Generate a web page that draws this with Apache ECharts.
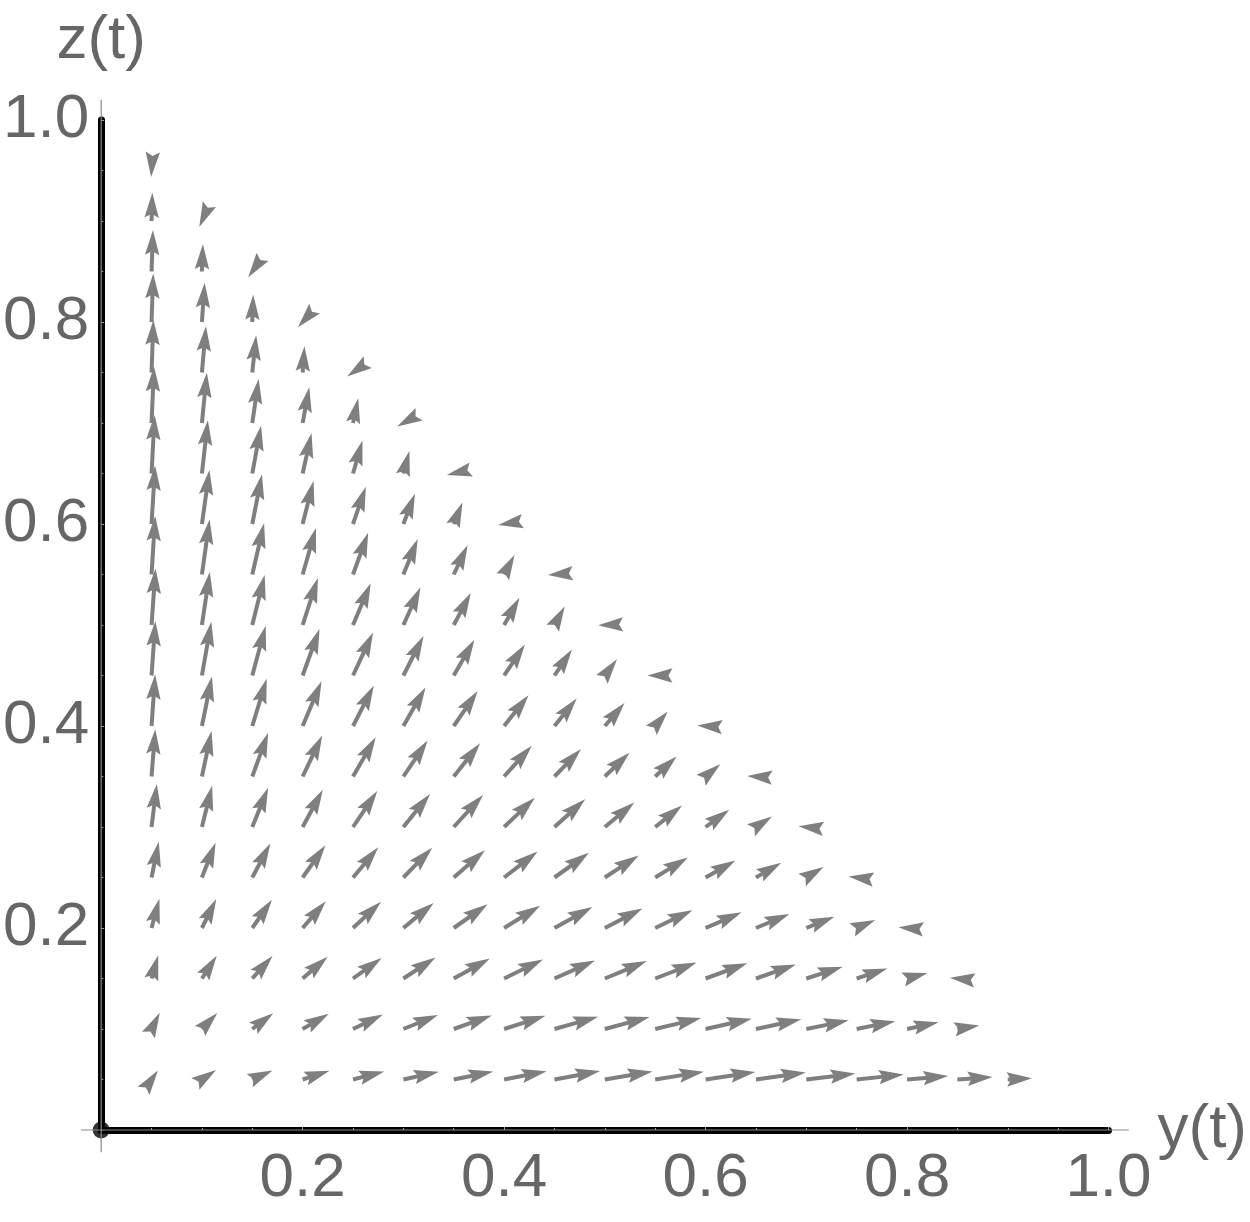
<!DOCTYPE html>
<html>
<head>
<meta charset="utf-8">
<script src="https://cdn.jsdelivr.net/npm/echarts/dist/echarts.min.js"></script>
<style>
html,body{margin:0;padding:0;background:#ffffff;}
#chart{width:1250px;height:1222px;}
</style>
</head>
<body>
<div id="chart"></div>
<script>
// ---- data ----
// sample grid (tail of each arrow sits on a grid point)
const yLevels = [0.05,0.10,0.15,0.20,0.25,0.30,0.35,0.40,0.45,0.50,0.55,0.60,0.65,0.70,0.75,0.80,0.85,0.90,0.95];
const zLevels = [0.05,0.10,0.15,0.20,0.25,0.30,0.35,0.40,0.45,0.50,0.55,0.60,0.65,0.70,0.75,0.80,0.85,0.90,0.95];

// arrow direction (degrees, counter-clockwise from +y axis), one row per z level, starting at y = 0.05
const angleRows = [
  [55,34,24,18,14.5,12.5,11.5,11,10.5,9.5,9,8.5,8,7,6,5,4,3],
  [63,46,37,30,26,22,19.6,17.6,15.7,15,13.5,12.5,12,11.5,11.5,12,9],
  [74,57,48,41,35.6,33,29,26,24,22.5,21,20,19.3,18,18,15,174],
  [75,63.6,55,49,43,39.6,35,31.6,29,27.4,25.5,23.4,22.6,22,23,175],
  [78.5,68.5,62,54.7,50,45.7,41,37.7,35.5,33,31.5,29.5,30,31,173],
  [83,76,68,61.6,56,51,47.5,43.5,42,39.5,38.5,36,33,174],
  [85.5,78,70,64.5,60,56,51.5,48,46,44,43,40,176],
  [86,78.5,73,67,62.7,60,55.6,51.6,51,49.5,49,176],
  [86,80,74.8,70,65,63,60,56,56,53,180],
  [86,81.5,76,72,67,65.5,62,60.6,61,182],
  [86.4,82,77,74,70,68,64.5,62,184],
  [86.5,82,79,75.7,71,69,68,189],
  [87,83.6,79.6,77.6,74,75,193],
  [87.5,84.4,81.7,79.5,78,209],
  [88,85,84,86,215],
  [88,86,88,228],
  [88,88,235],
  [88.5,246],
  [266]
];

// arrow length in data units, same layout as angleRows
const lengthRows = [
  [0.011,0.017,0.022,0.028,0.032,0.036,0.040,0.043,0.046,0.048,0.049,0.050,0.050,0.049,0.047,0.041,0.035,0.024],
  [0.018,0.022,0.026,0.030,0.033,0.037,0.040,0.043,0.045,0.046,0.047,0.047,0.046,0.043,0.039,0.032,0.022],
  [0.024,0.027,0.030,0.033,0.035,0.038,0.041,0.043,0.044,0.045,0.044,0.044,0.042,0.038,0.032,0.021,0.0075],
  [0.030,0.032,0.034,0.035,0.038,0.039,0.041,0.042,0.043,0.042,0.041,0.039,0.036,0.030,0.020,0.0085],
  [0.036,0.037,0.038,0.039,0.039,0.041,0.041,0.042,0.042,0.040,0.038,0.034,0.029,0.020,0.008],
  [0.043,0.042,0.042,0.042,0.043,0.042,0.043,0.042,0.041,0.038,0.034,0.029,0.019,0.0077],
  [0.047,0.046,0.046,0.045,0.045,0.043,0.042,0.041,0.038,0.034,0.029,0.019,0.0087],
  [0.051,0.050,0.049,0.048,0.045,0.044,0.042,0.039,0.035,0.030,0.019,0.0082],
  [0.054,0.054,0.051,0.049,0.047,0.044,0.041,0.037,0.031,0.020,0.0077],
  [0.056,0.053,0.051,0.049,0.045,0.041,0.036,0.031,0.021,0.0067],
  [0.058,0.055,0.052,0.048,0.044,0.038,0.032,0.022,0.0065],
  [0.058,0.054,0.050,0.044,0.039,0.032,0.023,0.006],
  [0.058,0.053,0.048,0.041,0.034,0.023,0.007],
  [0.056,0.050,0.044,0.036,0.025,0.007],
  [0.052,0.046,0.037,0.026,0.007],
  [0.048,0.039,0.027,0.007],
  [0.041,0.027,0.007],
  [0.028,0.0065],
  [0.0065]
];

const xTickValues = [0.2,0.4,0.6,0.8,1.0];
const yTickValues = [0.2,0.4,0.6,0.8,1.0];
const xAxisName = 'y(t)';
const yAxisName = 'z(t)';
const originPoint = [[0,0]];

// ---- build series data ----
const arrowData = [];
angleRows.forEach(function(row, r){
  row.forEach(function(ang, i){
    arrowData.push([yLevels[i], zLevels[r], ang, lengthRows[r][i]]);
  });
});

const FONT = '"Liberation Sans", Arial, Helvetica, sans-serif';
const TEXT_COLOR = '#666666';
const ARROW_COLOR = '#7f7f7f';

const chart = echarts.init(document.getElementById('chart'), null, {renderer:'canvas'});

function fmt(v){ return xTickValues.concat(yTickValues).some(function(t){return Math.abs(t-v)<1e-9;}) ? v.toFixed(1) : ''; }

const option = {
  animation: false,
  backgroundColor: '#ffffff',
  grid: {left:97, right:140, top:120, bottom:92, containLabel:false},
  xAxis: {
    type:'value', min:0, max:1, interval:0.2,
    name: xAxisName, nameLocation:'end', nameGap:48,
    nameTextStyle:{color:TEXT_COLOR, fontSize:62, fontFamily:FONT, align:'left', verticalAlign:'middle'},
    axisLine:{show:true, onZero:false, lineStyle:{color:'#000000', width:7}},
    axisTick:{show:true, inside:true, length:3, lineStyle:{color:'#a0a0a0', width:1}},
    minorTick:{show:true, splitNumber:4, length:2, lineStyle:{color:'#a0a0a0', width:1}},
    splitLine:{show:false},
    axisLabel:{color:TEXT_COLOR, fontSize:62, fontFamily:FONT, margin:18, formatter:fmt}
  },
  yAxis: {
    type:'value', min:0, max:1, interval:0.2,
    name: yAxisName, nameLocation:'end', nameGap:48,
    nameTextStyle:{color:TEXT_COLOR, fontSize:62, fontFamily:FONT, align:'center', verticalAlign:'bottom'},
    axisLine:{show:true, onZero:false, lineStyle:{color:'#000000', width:7}},
    axisTick:{show:true, inside:true, length:3, lineStyle:{color:'#a0a0a0', width:1}},
    minorTick:{show:true, splitNumber:4, length:2, lineStyle:{color:'#a0a0a0', width:1}},
    splitLine:{show:false},
    axisLabel:{color:TEXT_COLOR, fontSize:62, fontFamily:FONT, margin:12, formatter:fmt}
  },
  series: [
    {
      type:'custom',
      clip:false,
      coordinateSystem:'cartesian2d',
      dimensions:['y','z','angle','length'],
      encode:{x:0, y:1},
      data: arrowData,
      renderItem: function(params, api){
        const y = api.value(0), z = api.value(1), deg = api.value(2), len = api.value(3);
        const a = deg*Math.PI/180;
        const p0 = api.coord([y, z]);
        const p1 = api.coord([y + len*Math.cos(a), z + len*Math.sin(a)]);
        const dx = p1[0]-p0[0], dy = p1[1]-p0[1];
        const L = Math.hypot(dx, dy) || 1;
        const ux = dx/L, uy = dy/L, nx = -uy, ny = ux;
        const H = 25, W = 7.2, N = 4;
        const bx = p1[0]-H*ux, by = p1[1]-H*uy;
        const children = [];
        if (L > H - N) {
          children.push({type:'line', shape:{x1:p0[0], y1:p0[1], x2:p1[0]-(H-N-1)*ux, y2:p1[1]-(H-N-1)*uy},
            style:{stroke:ARROW_COLOR, lineWidth:4.0, lineCap:'butt'}});
        }
        children.push({type:'polygon', shape:{points:[
            [p1[0],p1[1]],
            [bx+W*nx, by+W*ny],
            [p1[0]-(H-N)*ux, p1[1]-(H-N)*uy],
            [bx-W*nx, by-W*ny]
          ]}, style:{fill:ARROW_COLOR}});
        return {type:'group', children:children};
      },
      z: 3
    },
    {
      type:'scatter',
      data: originPoint,
      symbol:'circle',
      symbolSize:17,
      itemStyle:{color:'#000000'},
      clip:false,
      silent:true,
      z: 10
    }
  ]
};
chart.setOption(option);

// thin grey axis guide lines that run slightly past the thick axes
const xa = chart.convertToPixel({gridIndex:0}, [-0.02, 0]);
const xb = chart.convertToPixel({gridIndex:0}, [1.02, 0]);
const ya = chart.convertToPixel({gridIndex:0}, [0, -0.022]);
const yb = chart.convertToPixel({gridIndex:0}, [0, 1.02]);
chart.setOption({
  graphic: [
    {type:'line', shape:{x1:xa[0], y1:xa[1], x2:xb[0], y2:xb[1]}, style:{stroke:'#8a8a8a', lineWidth:1.2}, z:20},
    {type:'line', shape:{x1:ya[0], y1:ya[1], x2:yb[0], y2:yb[1]}, style:{stroke:'#8a8a8a', lineWidth:1.2}, z:20}
  ]
});
</script>
</body>
</html>
